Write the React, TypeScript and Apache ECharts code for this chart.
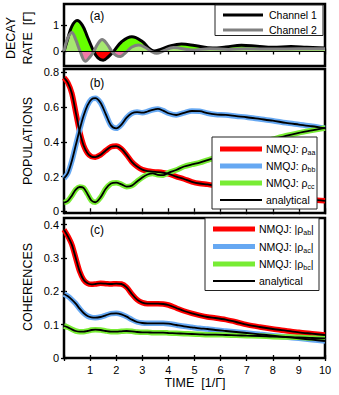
import React, { useEffect, useRef } from 'react';
import * as echarts from 'echarts';

const FONT = '"Liberation Sans", Arial, Helvetica, sans-serif';

// ---- panel (a): decay rates ----
const tCh1 = [0, 0.15, 0.3, 0.5, 0.7, 0.9, 1.14, 1.3, 1.5, 1.7, 1.9, 2.2, 2.6, 3.0, 3.25, 3.45, 3.7, 4.1, 4.5, 5.0, 5.7, 6.2, 6.8, 7.4, 8.0, 8.7, 9.3, 10];
const decayCh1 = [0, 0.5, 0.95, 1.17, 1.0, 0.55, 0, -0.24, -0.33, -0.2, 0, 0.36, 0.56, 0.38, 0.13, 0.02, 0.08, 0.22, 0.28, 0.23, 0.13, 0.17, 0.24, 0.2, 0.16, 0.19, 0.16, 0.13];
const tCh2 = [0, 0.12, 0.3, 0.45, 0.62, 0.82, 1.0, 1.14, 1.3, 1.46, 1.65, 1.84, 2.0, 2.16, 2.3, 2.41, 2.6, 2.86, 3.1, 3.35, 3.55, 3.8, 4.2, 4.9, 5.6, 6.3, 7.0, 8.0, 9.0, 10];
const decayCh2 = [0, 0.45, 0.72, 0.45, 0, -0.37, -0.2, 0, 0.3, 0.45, 0.28, 0, -0.15, -0.19, -0.1, 0, 0.17, 0.25, 0.16, 0, -0.07, 0.02, 0.15, 0.06, 0.1, 0.08, 0.1, 0.09, 0.1, 0.1];

// ---- panel (b): populations ----
const tPop = [0, 0.15, 0.3, 0.45, 0.6, 0.75, 0.9, 1.05, 1.2, 1.4, 1.6, 1.8, 2.0, 2.2, 2.4, 2.6, 2.8, 3.0, 3.2, 3.4, 3.6, 3.8, 4.0, 4.3, 4.6, 4.9, 5.2, 5.5, 5.8, 6.2, 6.6, 7.0, 7.5, 8.0, 8.5, 9.0, 9.5, 10];
const rhoAA = [0.77, 0.74, 0.68, 0.57, 0.46, 0.38, 0.335, 0.315, 0.312, 0.325, 0.35, 0.372, 0.376, 0.36, 0.325, 0.285, 0.258, 0.24, 0.232, 0.228, 0.226, 0.222, 0.215, 0.2, 0.186, 0.17, 0.16, 0.155, 0.148, 0.138, 0.128, 0.118, 0.106, 0.095, 0.085, 0.076, 0.067, 0.06];
const rhoBB = [0.19, 0.22, 0.29, 0.38, 0.47, 0.55, 0.61, 0.645, 0.652, 0.625, 0.56, 0.495, 0.478, 0.5, 0.54, 0.565, 0.572, 0.568, 0.575, 0.585, 0.59, 0.58, 0.565, 0.555, 0.567, 0.578, 0.577, 0.565, 0.558, 0.555, 0.548, 0.542, 0.532, 0.522, 0.51, 0.5, 0.49, 0.478];
const rhoCC = [0.05, 0.06, 0.09, 0.125, 0.14, 0.135, 0.1, 0.062, 0.052, 0.08, 0.13, 0.16, 0.165, 0.155, 0.142, 0.148, 0.172, 0.195, 0.212, 0.218, 0.21, 0.208, 0.222, 0.238, 0.258, 0.27, 0.28, 0.295, 0.31, 0.33, 0.35, 0.37, 0.395, 0.415, 0.435, 0.452, 0.466, 0.48];

// ---- panel (c): coherences ----
const tCoh = [0, 0.15, 0.3, 0.45, 0.6, 0.75, 0.9, 1.05, 1.2, 1.4, 1.6, 1.8, 2.0, 2.2, 2.4, 2.6, 2.8, 3.0, 3.2, 3.4, 3.6, 3.8, 4.0, 4.3, 4.6, 4.9, 5.2, 5.5, 5.8, 6.2, 6.6, 7.0, 7.5, 8.0, 8.5, 9.0, 9.5, 10];
const cohAB = [0.385, 0.365, 0.34, 0.3, 0.26, 0.235, 0.224, 0.221, 0.222, 0.224, 0.223, 0.222, 0.223, 0.222, 0.212, 0.192, 0.175, 0.166, 0.163, 0.163, 0.163, 0.162, 0.159, 0.15, 0.141, 0.134, 0.128, 0.123, 0.12, 0.115, 0.108, 0.1, 0.093, 0.087, 0.082, 0.077, 0.073, 0.069];
const cohAC = [0.192, 0.185, 0.175, 0.163, 0.148, 0.135, 0.126, 0.122, 0.121, 0.123, 0.128, 0.133, 0.134, 0.131, 0.124, 0.115, 0.108, 0.105, 0.104, 0.104, 0.104, 0.104, 0.103, 0.099, 0.095, 0.092, 0.089, 0.087, 0.084, 0.081, 0.078, 0.075, 0.071, 0.067, 0.063, 0.059, 0.055, 0.051];
const cohBC = [0.096, 0.092, 0.086, 0.081, 0.079, 0.079, 0.081, 0.084, 0.085, 0.084, 0.081, 0.079, 0.079, 0.08, 0.081, 0.08, 0.078, 0.077, 0.077, 0.076, 0.076, 0.076, 0.075, 0.074, 0.073, 0.072, 0.071, 0.07, 0.07, 0.069, 0.068, 0.067, 0.066, 0.064, 0.063, 0.062, 0.06, 0.059];

// ---- ticks ----
const xTickLabels = [1, 2, 3, 4, 5, 6, 7, 8, 9, 10];
const decayTicks = [0, 1];
const popTicks = [0, 0.2, 0.4, 0.6, 0.8];
const cohTicks = [0, 0.1, 0.2, 0.3, 0.4];

const RED = '#ff0000';
const BLUE = '#66a8f2';
const GREEN = '#78ec34';

const A_MIN = -0.55;
const A_MAX = 1.8;
const A_TOP = 4;
const A_H = 62;

const pairs = (t: number[], v: number[]) => t.map((x, i) => [x, v[i]]);

const tickStyle = { color: '#000', width: 1.3 };

const mkX = (gi: number, pos: string, showLabel: boolean) => ({
  type: 'value', gridIndex: gi, min: 0, max: 10, interval: 1, position: pos,
  axisLine: { show: false },
  axisTick: { show: true, inside: true, length: 3, lineStyle: tickStyle },
  axisLabel: { show: showLabel, customValues: xTickLabels, margin: 6, color: '#000', fontSize: 11, fontFamily: FONT },
  splitLine: { show: false },
});

const mkY = (gi: number, pos: string, min: number, max: number, ticks: number[], showLabel: boolean) => ({
  type: 'value', gridIndex: gi, min, max, position: pos,
  axisLine: { show: false },
  axisTick: { show: true, inside: true, length: 3, customValues: ticks, lineStyle: tickStyle },
  axisLabel: { show: showLabel, customValues: ticks, margin: 5, color: '#000', fontSize: 11, fontFamily: FONT },
  splitLine: { show: false },
});

const gridBase = { left: 64, width: 261, show: true, borderColor: '#000', borderWidth: 2.5, backgroundColor: 'transparent' };

// fill colour that switches at the zero line of panel (a)
const zeroFrac = A_MAX / (A_MAX - A_MIN);
const signFill = (pos: string, neg: string) =>
  new echarts.graphic.LinearGradient(0, A_TOP, 0, A_TOP + A_H, [
    { offset: 0, color: pos },
    { offset: zeroFrac, color: pos },
    { offset: zeroFrac, color: neg },
    { offset: 1, color: neg },
  ], true);

const colored = (name: string, t: number[], v: number[], color: string, axis: number) => ({
  type: 'line', name, data: pairs(t, v), xAxisIndex: axis, yAxisIndex: axis,
  showSymbol: false, symbol: 'none', smooth: 0.3,
  lineStyle: { color, width: 5.5 }, z: 3,
});
const black = (name: string, t: number[], v: number[], axis: number) => ({
  type: 'line', name, data: pairs(t, v), xAxisIndex: axis, yAxisIndex: axis,
  showSymbol: false, symbol: 'none', smooth: 0.3,
  lineStyle: { color: '#000', width: 1.8 }, z: 4,
});

const txt = (text: string, x: number, y: number, size: number, extra: any = {}) => ({
  type: 'text', x, y, z: 110, ...extra,
  style: {
    text, fill: '#000', fontSize: size, fontFamily: FONT,
    align: extra.align || 'center', textAlign: extra.align || 'center',
    verticalAlign: 'middle', textVerticalAlign: 'middle',
  },
});

const legLine = (x1: number, x2: number, y: number, color: string, w: number) => ({
  type: 'line', z: 111, shape: { x1, y1: y, x2, y2: y }, style: { stroke: color, lineWidth: w },
});

const legBox = (x: number, y: number, w: number, h: number) => ({
  type: 'rect', z: 105, shape: { x, y, width: w, height: h },
  style: { fill: '#fff', stroke: '#222', lineWidth: 1 },
});

const richTxt = (text: string, x: number, y: number) => ({
  type: 'text', x, y, z: 112,
  style: {
    text, fill: '#000', align: 'left', textAlign: 'left', verticalAlign: 'middle', textVerticalAlign: 'middle',
    fontFamily: FONT, fontSize: 10.5,
    rich: {
      m: { fontSize: 10.5, fontFamily: FONT, lineHeight: 14, fill: '#000' },
      s: { fontSize: 7, fontFamily: FONT, lineHeight: 7, verticalAlign: 'bottom', fill: '#000' },
    },
  },
});

const option: any = {
  animation: false,
  backgroundColor: '#fff',
  grid: [
    { ...gridBase, top: A_TOP, height: A_H },
    { ...gridBase, top: 69, height: 144 },
    { ...gridBase, top: 218, height: 140 },
  ],
  xAxis: [mkX(0, 'bottom', false), mkX(0, 'top', false), mkX(1, 'bottom', false), mkX(1, 'top', false), mkX(2, 'bottom', true), mkX(2, 'top', false)],
  yAxis: [
    mkY(0, 'left', A_MIN, A_MAX, decayTicks, true), mkY(0, 'right', A_MIN, A_MAX, decayTicks, false),
    mkY(1, 'left', -0.01, 0.82, popTicks, true), mkY(1, 'right', -0.01, 0.82, popTicks, false),
    mkY(2, 'left', 0, 0.42, cohTicks, true), mkY(2, 'right', 0, 0.42, cohTicks, false),
  ],
  series: [
    { type: 'line', name: 'Channel 1 fill', data: pairs(tCh1, decayCh1), xAxisIndex: 0, yAxisIndex: 0, showSymbol: false, symbol: 'none', smooth: 0.4, lineStyle: { width: 0, opacity: 0 }, areaStyle: { opacity: 1, color: signFill('#66ff00', '#ff0000') }, z: 1 },
    { type: 'line', name: 'Channel 2 fill', data: pairs(tCh2, decayCh2), xAxisIndex: 0, yAxisIndex: 0, showSymbol: false, symbol: 'none', smooth: 0.4, lineStyle: { width: 0, opacity: 0 }, areaStyle: { opacity: 1, color: signFill('#a6e870', '#f27aa6') }, z: 1 },
    {
      type: 'line', name: 'Channel 1', data: pairs(tCh1, decayCh1), xAxisIndex: 0, yAxisIndex: 0, showSymbol: false, symbol: 'none', smooth: 0.4,
      lineStyle: { color: '#000', width: 3 }, z: 3,
      markLine: { silent: true, symbol: 'none', label: { show: false }, lineStyle: { color: '#000', width: 1, type: 'solid' }, data: [{ yAxis: 0 }] },
    },
    { type: 'line', name: 'Channel 2', data: pairs(tCh2, decayCh2), xAxisIndex: 0, yAxisIndex: 0, showSymbol: false, symbol: 'none', smooth: 0.4, lineStyle: { color: '#808080', width: 3 }, z: 4 },
    colored('NMQJ: ρaa', tPop, rhoAA, RED, 2),
    colored('NMQJ: ρbb', tPop, rhoBB, BLUE, 2),
    colored('NMQJ: ρcc', tPop, rhoCC, GREEN, 2),
    black('analytical ρaa', tPop, rhoAA, 2),
    black('analytical ρbb', tPop, rhoBB, 2),
    black('analytical ρcc', tPop, rhoCC, 2),
    colored('NMQJ: |ρab|', tCoh, cohAB, RED, 4),
    colored('NMQJ: |ρac|', tCoh, cohAC, BLUE, 4),
    colored('NMQJ: |ρbc|', tCoh, cohBC, GREEN, 4),
    black('analytical ρab', tCoh, cohAB, 4),
    black('analytical ρac', tCoh, cohAC, 4),
    black('analytical ρbc', tCoh, cohBC, 4),
  ],
  graphic: [
    txt('DECAY', 10.5, 38, 12.5, { rotation: Math.PI / 2 }),
    txt('RATE  [Γ]', 27.5, 38, 12.5, { rotation: Math.PI / 2 }),
    txt('POPULATIONS', 27.5, 141, 12.5, { rotation: Math.PI / 2 }),
    txt('COHERENCES', 27.5, 287, 12.5, { rotation: Math.PI / 2 }),
    txt('TIME  [1/Γ]', 195, 383, 12.5),
    txt('(a)', 97, 16, 12),
    txt('(b)', 97, 83, 12),
    txt('(c)', 97, 230, 12),
    legBox(215, 5, 108, 30.5),
    legLine(223, 263, 15, '#000', 3),
    legLine(223, 263, 30, '#808080', 3),
    txt('Channel 1', 269, 15, 10.5, { align: 'left' }),
    txt('Channel 2', 269, 30, 10.5, { align: 'left' }),
    legBox(212, 137, 105, 72),
    legLine(220, 262, 149, RED, 5),
    legLine(220, 262, 166, BLUE, 5),
    legLine(220, 262, 183, GREEN, 5),
    legLine(220, 262, 200, '#000', 2),
    richTxt('{m|NMQJ: ρ}{s|aa}', 266, 149),
    richTxt('{m|NMQJ: ρ}{s|bb}', 266, 166),
    richTxt('{m|NMQJ: ρ}{s|cc}', 266, 183),
    txt('analytical', 266, 200, 10.5, { align: 'left' }),
    legBox(205, 218, 114, 72.5),
    legLine(213, 255, 229, RED, 5),
    legLine(213, 255, 246.5, BLUE, 5),
    legLine(213, 255, 264, GREEN, 5),
    legLine(213, 255, 281, '#000', 2),
    richTxt('{m|NMQJ: |ρ}{s|ab}{m||}', 259, 229),
    richTxt('{m|NMQJ: |ρ}{s|ac}{m||}', 259, 246.5),
    richTxt('{m|NMQJ: |ρ}{s|bc}{m||}', 259, 264),
    txt('analytical', 259, 281, 10.5, { align: 'left' }),
  ],
};

export default function App() {
  const ref = useRef<HTMLDivElement>(null);
  useEffect(() => {
    const chart = echarts.init(ref.current as HTMLDivElement, null, { renderer: 'svg' });
    chart.setOption(option);
    return () => chart.dispose();
  }, []);
  return <div ref={ref} style={{ position: 'absolute', left: 0, top: 0, width: 339, height: 395 }} />;
}
